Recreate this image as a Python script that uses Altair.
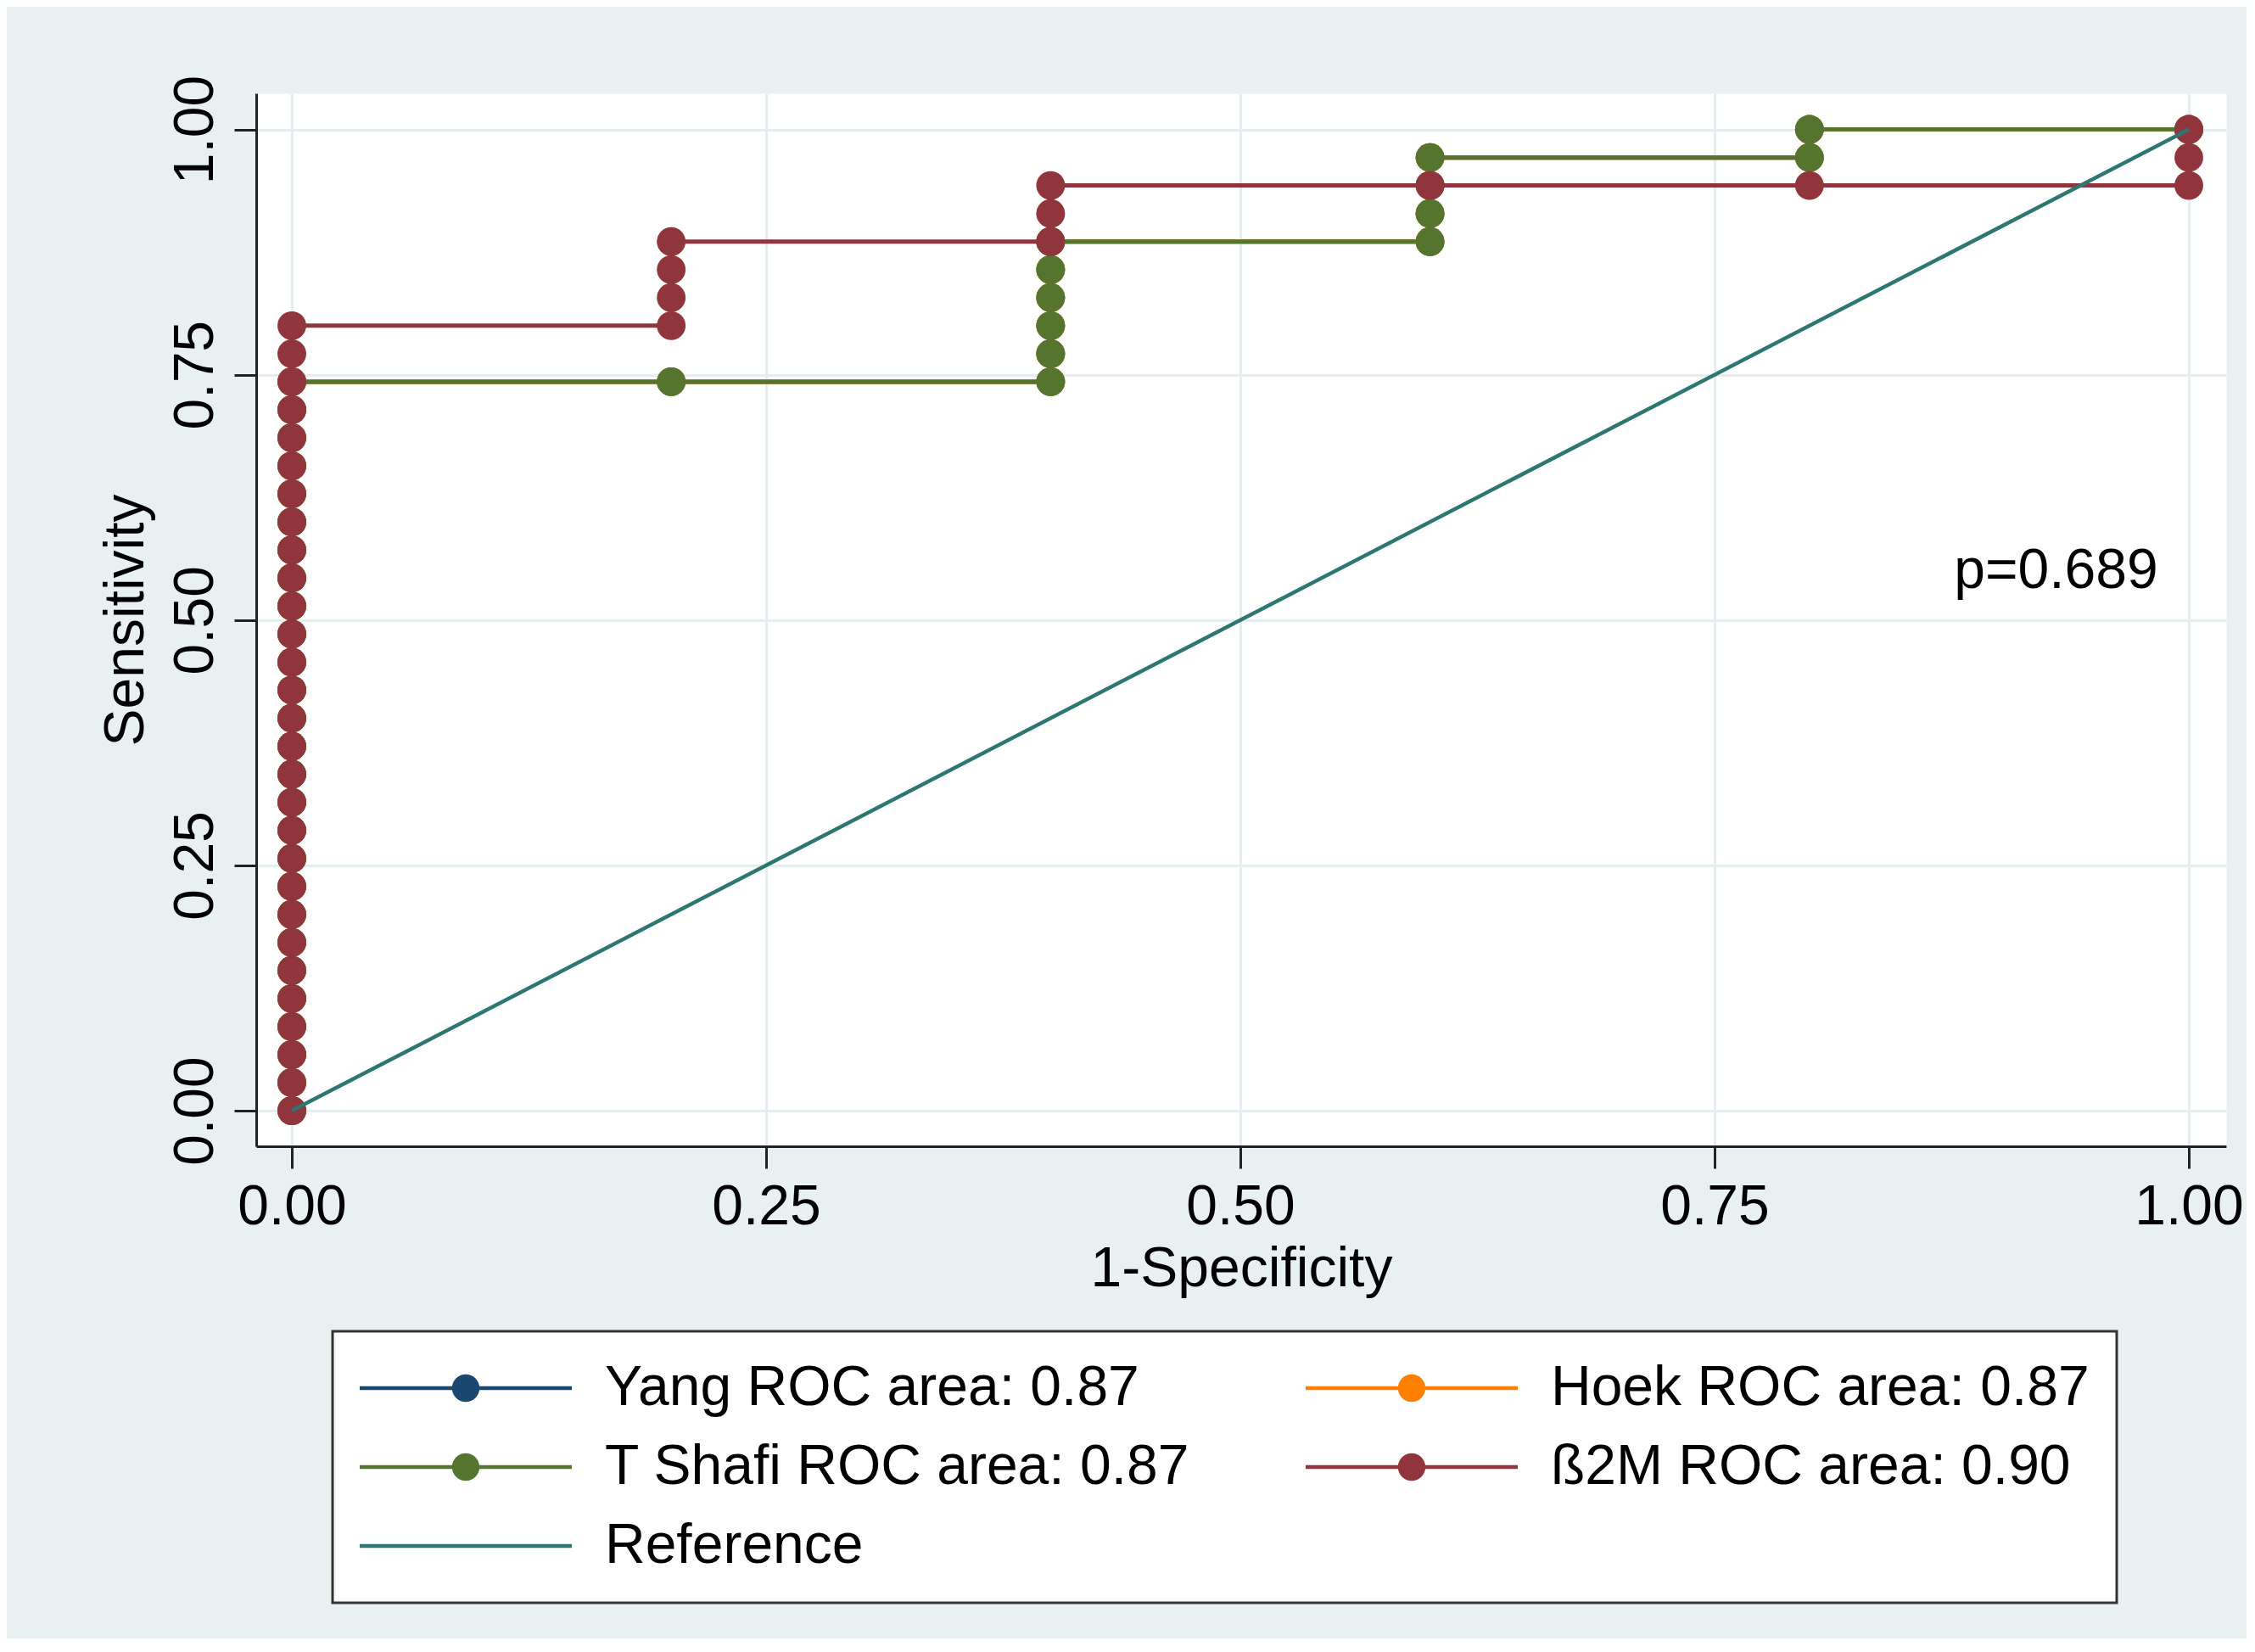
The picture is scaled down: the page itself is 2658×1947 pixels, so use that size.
import altair as alt
import pandas as pd

FONT = "Liberation Sans"

# ---- series / legend ----
series_names = [
    "Yang ROC area: 0.87",
    "Hoek ROC area: 0.87",
    "T Shafi ROC area: 0.87",
    "ß2M ROC area: 0.90",
    "Reference",
]
series_colors = ["#1a476f", "#ff8000", "#55752f", "#90353b", "#2e7672"]

tick_vals = [0.0, 0.25, 0.5, 0.75, 1.0]

# ---- ROC points (1-specificity, sensitivity) ----
tshafi_fpr = [0.0, 0.0, 0.0, 0.0, 0.0, 0.0, 0.0, 0.0, 0.0, 0.0,
              0.0, 0.0, 0.0, 0.0, 0.0, 0.0, 0.0, 0.0, 0.0, 0.0,
              0.0, 0.0, 0.0, 0.0, 0.0, 0.0, 0.0,
              0.2,
              0.4, 0.4, 0.4, 0.4, 0.4, 0.4,
              0.6, 0.6, 0.6, 0.6,
              0.8, 0.8,
              1.0]
tshafi_sens = [0.0000, 0.0286, 0.0571, 0.0857, 0.1143, 0.1429, 0.1714, 0.2000, 0.2286, 0.2571,
               0.2857, 0.3143, 0.3429, 0.3714, 0.4000, 0.4286, 0.4571, 0.4857, 0.5143, 0.5429,
               0.5714, 0.6000, 0.6286, 0.6571, 0.6857, 0.7143, 0.7429,
               0.7429,
               0.7429, 0.7714, 0.8000, 0.8286, 0.8571, 0.8857,
               0.8857, 0.9143, 0.9429, 0.9714,
               0.9714, 1.0000,
               1.0000]

# Yang and Hoek curves lie exactly under the T Shafi curve (same ROC area)
yang_fpr = list(tshafi_fpr)
yang_sens = list(tshafi_sens)
hoek_fpr = list(tshafi_fpr)
hoek_sens = list(tshafi_sens)

b2m_fpr = [0.0, 0.0, 0.0, 0.0, 0.0, 0.0, 0.0, 0.0, 0.0, 0.0,
           0.0, 0.0, 0.0, 0.0, 0.0, 0.0, 0.0, 0.0, 0.0, 0.0,
           0.0, 0.0, 0.0, 0.0, 0.0, 0.0, 0.0, 0.0, 0.0,
           0.2, 0.2, 0.2, 0.2,
           0.4, 0.4, 0.4,
           0.6,
           0.8,
           1.0, 1.0, 1.0]
b2m_sens = [0.0000, 0.0286, 0.0571, 0.0857, 0.1143, 0.1429, 0.1714, 0.2000, 0.2286, 0.2571,
            0.2857, 0.3143, 0.3429, 0.3714, 0.4000, 0.4286, 0.4571, 0.4857, 0.5143, 0.5429,
            0.5714, 0.6000, 0.6286, 0.6571, 0.6857, 0.7143, 0.7429, 0.7714, 0.8000,
            0.8000, 0.8286, 0.8571, 0.8857,
            0.8857, 0.9143, 0.9429,
            0.9429,
            0.9429,
            0.9429, 0.9714, 1.0000]

ref_fpr = [0.0, 1.0]
ref_sens = [0.0, 1.0]

note_x = [0.93]
note_y = [0.55]
note_text = ["p=0.689"]

# ---- tables ----
rows = []
for name, xs, ys in [
    (series_names[0], yang_fpr, yang_sens),
    (series_names[1], hoek_fpr, hoek_sens),
    (series_names[2], tshafi_fpr, tshafi_sens),
    (series_names[3], b2m_fpr, b2m_sens),
]:
    for i, (a, b) in enumerate(zip(xs, ys)):
        rows.append({"series": name, "idx": i, "fpr": a, "sens": b})
roc = pd.DataFrame(rows)
ref = pd.DataFrame({"series": ["Reference"] * len(ref_fpr), "idx": list(range(len(ref_fpr))),
                    "fpr": ref_fpr, "sens": ref_sens})
note = pd.DataFrame({"fpr": note_x, "sens": note_y, "label": note_text})
legend_tbl = pd.DataFrame({"series": series_names})

# ---- scales / encodings ----
x_enc = alt.X(
    "fpr:Q",
    scale=alt.Scale(domain=[-0.01878, 1.01968], nice=False, zero=False),
    axis=alt.Axis(values=tick_vals, format=".2f", title="1-Specificity",
                  labelPadding=13, titlePadding=8, labelFlush=False),
)
y_enc = alt.Y(
    "sens:Q",
    scale=alt.Scale(domain=[-0.0363, 1.0368], nice=False, zero=False),
    axis=alt.Axis(values=tick_vals, format=".2f", title="Sensitivity",
                  labelAngle=270, labelAlign="center", labelBaseline="alphabetic",
                  labelPadding=26, titlePadding=15, labelFlush=False),
)
color_scale = alt.Scale(domain=series_names, range=series_colors)

# legend symbol: a line with a dot (or a plain line for the reference)
path_line_dot = ("M-1,-0.018H1V0.018H-1Z "
                 "M0.13,0A0.13,0.13,0,1,1,-0.13,0A0.13,0.13,0,1,1,0.13,0Z")
path_line = "M-1,-0.018H1V0.018H-1Z"
shape_scale = alt.Scale(domain=series_names,
                        range=[path_line_dot, path_line_dot, path_line_dot, path_line_dot, path_line])

legend_def = alt.Legend(
    title=None, orient="none", legendX=90, legendY=1459, columns=2,
    direction="horizontal",
)

layers = []

# legend-only layer (draws no marks); first so its legend settings win
layers.append(
    alt.Chart(legend_tbl).transform_filter("false").mark_point(filled=True, opacity=1).encode(
        color=alt.Color("series:N", scale=color_scale, legend=legend_def),
        shape=alt.Shape("series:N", scale=shape_scale, legend=legend_def),
    )
)

for name in series_names[:4]:
    base = alt.Chart(roc).transform_filter(alt.datum.series == name)
    layers.append(
        base.mark_line(strokeWidth=5).encode(
            x=x_enc, y=y_enc,
            color=alt.Color("series:N", scale=color_scale, legend=None),
            order="idx:Q",
        )
    )
    layers.append(
        base.mark_point(filled=True, size=1150, opacity=1).encode(
            x=x_enc, y=y_enc,
            color=alt.Color("series:N", scale=color_scale, legend=None),
        )
    )

layers.append(
    alt.Chart(ref).mark_line(strokeWidth=4.5).encode(
        x=x_enc, y=y_enc,
        color=alt.Color("series:N", scale=color_scale, legend=None),
        order="idx:Q",
    )
)

layers.append(
    alt.Chart(note).mark_text(font=FONT, fontSize=66, color="black",
                              align="center", baseline="middle").encode(
        x=x_enc, y=y_enc, text="label:N"
    )
)

chart = (
    alt.layer(*layers)
    .properties(
        width=2322,
        height=1241,
        autosize=alt.AutoSizeParams(type="none"),
        padding={"left": 294, "top": 102, "right": 24, "bottom": 580},
        background="#e8f0f2",
        view=alt.ViewBackground(fill="white", stroke="transparent"),
    )
    .configure_view(fill="white", stroke="transparent")
    .configure_axis(
        domainColor="#222222", domainWidth=3,
        tickColor="#222222", tickWidth=3, tickSize=26,
        gridColor="#e4edf0", gridWidth=3,
        labelFont=FONT, labelFontSize=66, labelColor="black",
        titleFont=FONT, titleFontSize=66, titleColor="black", titleFontWeight="normal",
    )
    .configure_legend(
        fillColor="white", strokeColor="#333333", strokeWidth=3, padding=32,
        columnPadding=136, rowPadding=23, labelFont=FONT, labelFontSize=66,
        labelColor="black", labelOffset=39, labelLimit=1500,
        symbolSize=62500, symbolStrokeWidth=0, symbolOpacity=1, clipHeight=70,
    )
)

chart.save("out.html", embed_options={"renderer": "svg", "actions": False})
